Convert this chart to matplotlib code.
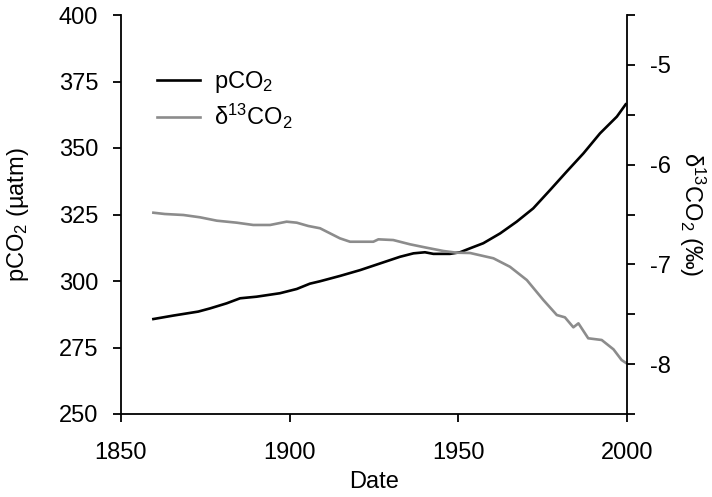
import numpy as np
import matplotlib
matplotlib.use("Agg")
import matplotlib.pyplot as plt

plt.rcParams['font.family'] = ['Liberation Sans', 'DejaVu Sans']
plt.rcParams['mathtext.fontset'] = 'custom'
plt.rcParams['mathtext.rm'] = 'Liberation Sans'
plt.rcParams['mathtext.it'] = 'Liberation Sans:italic'
plt.rcParams['mathtext.bf'] = 'Liberation Sans:bold'

# pCO2 (µatm) record
pco2_years = [1859.6, 1865.5, 1872.9, 1876.4, 1881.3, 1885.3, 1890.2, 1897.1, 1902.1,
              1906.0, 1909.0, 1914.9, 1920.9, 1926.8, 1932.7, 1936.7, 1940.1, 1942.6,
              1947.5, 1950.5, 1953.5, 1957.4, 1962.4, 1967.3, 1972.2, 1977.2, 1982.1,
              1987.1, 1992.0, 1997.0, 1999.6]
pco2_vals = [285.7, 287.0, 288.5, 289.7, 291.6, 293.5, 294.1, 295.4, 297.0,
             299.0, 299.9, 301.9, 304.1, 306.6, 309.1, 310.4, 310.8, 310.2,
             310.2, 310.8, 312.3, 314.2, 317.9, 322.3, 327.3, 334.2, 341.1,
             348.0, 355.5, 361.8, 366.4]

# delta13 CO2 (per mil) record
d13_years = [1859.6, 1863.0, 1868.5, 1873.4, 1878.4, 1884.3, 1889.2, 1894.2, 1899.1,
             1902.1, 1905.5, 1909.0, 1914.9, 1917.9, 1924.8, 1926.3, 1930.7, 1935.7,
             1940.6, 1945.6, 1949.5, 1953.5, 1960.4, 1965.3, 1970.3, 1975.2, 1979.2,
             1981.6, 1984.1, 1985.6, 1988.5, 1992.5, 1996.0, 1998.4, 1999.6]
d13_vals = [-6.482, -6.495, -6.505, -6.528, -6.562, -6.582, -6.605, -6.605, -6.572,
            -6.582, -6.615, -6.638, -6.739, -6.773, -6.773, -6.749, -6.756, -6.799,
            -6.833, -6.866, -6.883, -6.886, -6.939, -7.024, -7.157, -7.357, -7.508,
            -7.531, -7.631, -7.591, -7.741, -7.758, -7.852, -7.959, -7.986]

x_ticks = [1850, 1900, 1950, 2000]
left_ticks = [250, 275, 300, 325, 350, 375, 400]
right_major = [-8, -7, -6, -5]
right_minor = [-8.5, -7.5, -6.5, -5.5, -4.5]

fs = 17
fig = plt.figure(figsize=(7.12, 4.97), dpi=100)
ax = fig.add_axes([121/712, 1-414/497, 506/712, 399/497])
ax2 = ax.twinx()

l1, = ax.plot(pco2_years, pco2_vals, color='black', lw=1.9, label='pCO$_2$')
l2, = ax2.plot(d13_years, d13_vals, color='#8c8c8c', lw=1.9, label='δ$^{13}$CO$_2$')

ax.set_xlim(1850, 2000)
ax.set_ylim(250, 400)
ax2.set_ylim(-8.5, -4.5)
ax.set_xticks(x_ticks)
ax.set_yticks(left_ticks)
ax2.set_yticks(right_major)
ax2.set_yticks(right_minor, minor=True)

for a in (ax, ax2):
    a.spines['top'].set_visible(False)
    for s in a.spines.values():
        s.set_linewidth(1.3)
ax.spines['right'].set_visible(False)
ax2.spines['left'].set_visible(False)
ax2.spines['bottom'].set_visible(False)

ax.tick_params(axis='y', which='major', direction='out', length=5.5, width=1.3,
               labelsize=fs, pad=11)
ax.tick_params(axis='x', which='major', direction='out', length=5.5, width=1.3,
               labelsize=fs, pad=15)
ax2.tick_params(axis='y', which='both', direction='out', length=5.5, width=1.3,
                labelsize=fs, pad=11)
ax2.set_yticklabels([str(v) for v in right_major])

ax.set_xlabel('Date', fontsize=fs, labelpad=5)
ax.set_ylabel('pCO$_2$ (µatm)', fontsize=fs, labelpad=20)
ax2.set_ylabel('δ$^{13}$CO$_2$ (‰)', fontsize=fs, rotation=-90, labelpad=26)

ax.legend(handles=[l1, l2], loc='upper left', bbox_to_anchor=(0.072, 0.865),
          frameon=False, fontsize=fs, handlelength=1.8, handletextpad=0.6,
          labelspacing=0.3, borderpad=0, borderaxespad=0)

fig.savefig('out.png', dpi=100)
